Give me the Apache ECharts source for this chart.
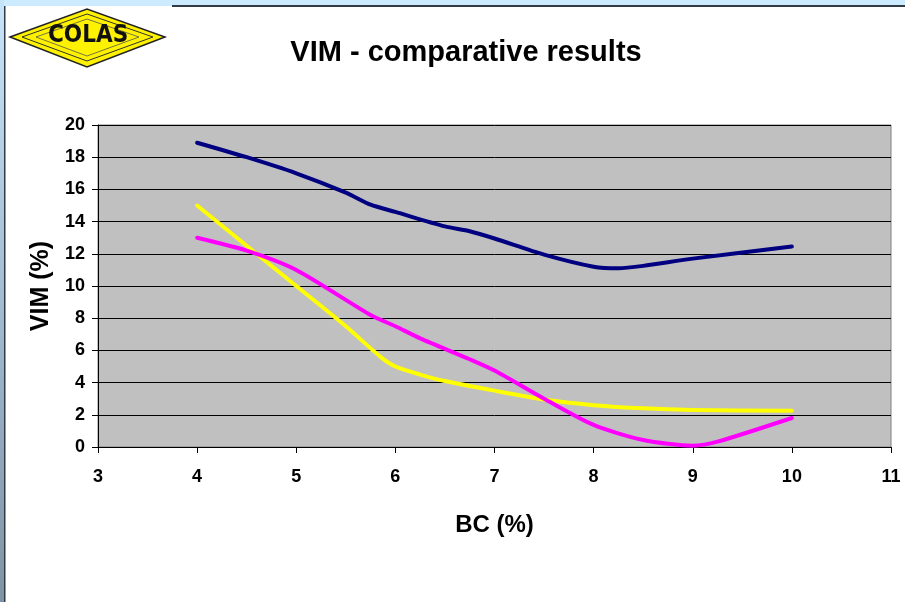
<!DOCTYPE html>
<html>
<head>
<meta charset="utf-8">
<script src="https://cdn.jsdelivr.net/npm/echarts@6/dist/echarts.min.js"></script>
<style>html,body{margin:0;padding:0;background:#fff}#c{width:905px;height:602px}</style>
</head>
<body>
<div id="c"></div>
<script>
// Data
const seriesNames = ['Series A', 'Series B', 'Series C'];
const xNavy    = [4, 4.5, 5, 5.5, 5.75, 6, 6.5, 6.75, 7, 7.5, 8, 8.25, 8.5, 9, 10];
const yNavy    = [18.9, 18.0, 17.0, 15.8, 15.05, 14.6, 13.7, 13.4, 12.95, 11.95, 11.2, 11.1, 11.25, 11.7, 12.45];
const xYellow  = [4, 5, 5.5, 5.85, 6, 6.25, 6.5, 7, 7.5, 8, 8.5, 9, 10];
const yYellow  = [15.0, 10.0, 7.5, 5.6, 5.0, 4.5, 4.1, 3.5, 2.95, 2.6, 2.4, 2.3, 2.25];
const xMagenta = [4, 4.5, 5, 5.75, 6, 6.25, 6.75, 7, 7.5, 8, 8.5, 9, 9.25, 10];
const yMagenta = [13.0, 12.2, 11.0, 8.2, 7.5, 6.75, 5.45, 4.75, 3.0, 1.37, 0.43, 0.08, 0.33, 1.8];
const xTicks = [3, 4, 5, 6, 7, 8, 9, 10, 11];
const yTicks = [0, 2, 4, 6, 8, 10, 12, 14, 16, 18, 20];

const pairs = (xs, ys) => xs.map((x, i) => [x, ys[i]]);
const font = 'Liberation Sans, Arial, sans-serif';

const chart = echarts.init(document.getElementById('c'), null, {renderer: 'canvas'});
chart.setOption({
  backgroundColor: '#ffffff',
  animation: false,
  title: {
    text: 'VIM - comparative results',
    left: 461, top: 33, textAlign: 'center',
    textStyle: {fontFamily: font, fontSize: 29, fontWeight: 'bold', color: '#000'}
  },
  grid: {
    left: 98, right: 14, top: 125, bottom: 155,
    show: true, backgroundColor: '#C0C0C0', borderColor: '#808080', borderWidth: 1
  },
  xAxis: {
    type: 'value', min: xTicks[0], max: xTicks[xTicks.length - 1], interval: 1,
    name: 'BC (%)', nameLocation: 'middle', nameGap: 66,
    nameTextStyle: {fontFamily: font, fontSize: 24, fontWeight: 'bold', color: '#000'},
    axisLine: {show: true, lineStyle: {color: '#000', width: 1}},
    axisTick: {show: true, inside: false, length: 6, lineStyle: {color: '#000'}},
    axisLabel: {margin: 21, fontFamily: font, fontSize: 18, fontWeight: 'bold', color: '#000'},
    splitLine: {show: false}
  },
  yAxis: {
    type: 'value', min: yTicks[0], max: yTicks[yTicks.length - 1], interval: 2,
    name: 'VIM (%)', nameLocation: 'middle', nameGap: 44,
    nameTextStyle: {fontFamily: font, fontSize: 25, fontWeight: 'bold', color: '#000'},
    axisLine: {show: true, lineStyle: {color: '#000', width: 1}},
    axisTick: {show: true, inside: false, length: 6, lineStyle: {color: '#000'}},
    axisLabel: {margin: 13, fontFamily: font, fontSize: 18, fontWeight: 'bold', color: '#000'},
    splitLine: {show: true, lineStyle: {color: '#000', width: 1}}
  },
  series: [
    {name: seriesNames[0], type: 'line', data: pairs(xNavy, yNavy), smooth: 0.25, showSymbol: false,
     lineStyle: {color: '#000080', width: 4, cap: 'round', join: 'round'}},
    {name: seriesNames[1], type: 'line', data: pairs(xYellow, yYellow), smooth: 0.25, showSymbol: false,
     lineStyle: {color: '#FFFF00', width: 4, cap: 'round', join: 'round'}},
    {name: seriesNames[2], type: 'line', data: pairs(xMagenta, yMagenta), smooth: 0.25, showSymbol: false,
     lineStyle: {color: '#FF00FF', width: 4, cap: 'round', join: 'round'}}
  ],
  graphic: [
    // window frame
    {type: 'rect', shape: {x: 0, y: 0, width: 905, height: 6}, style: {fill: '#CCEBFF'}, silent: true},
    {type: 'rect', shape: {x: 172, y: 5, width: 733, height: 2}, style: {fill: '#333b45'}, silent: true},
    {type: 'rect', shape: {x: 0, y: 0, width: 4, height: 602},
     style: {fill: new echarts.graphic.LinearGradient(0, 0, 0, 1, [{offset: 0, color: '#C6E4FA'}, {offset: 1, color: '#7E93A6'}])}, silent: true},
    {type: 'rect', shape: {x: 4, y: 6, width: 1.5, height: 596}, style: {fill: '#333b45'}, silent: true},
    // COLAS logo
    {type: 'polygon', shape: {points: [[10, 37], [87, 9], [165, 37], [87, 67]]},
     style: {fill: '#FFF200', stroke: '#222', lineWidth: 1.5}, silent: true},
    {type: 'polygon', shape: {points: [[22, 37], [87, 14], [153, 37], [87, 61]]},
     style: {fill: 'none', stroke: '#333', lineWidth: 1}, silent: true},
    {type: 'polygon', shape: {points: [[36, 37], [87, 19], [139, 37], [87, 56]]},
     style: {fill: 'none', stroke: '#555', lineWidth: 0.8}, silent: true},
    {type: 'text', left: 48, top: 24,
     style: {text: 'COLAS', font: 'bold 24px "DejaVu Sans Condensed", "Liberation Sans Narrow", sans-serif', fill: '#111'}, silent: true}
  ]
});
</script>
</body>
</html>
